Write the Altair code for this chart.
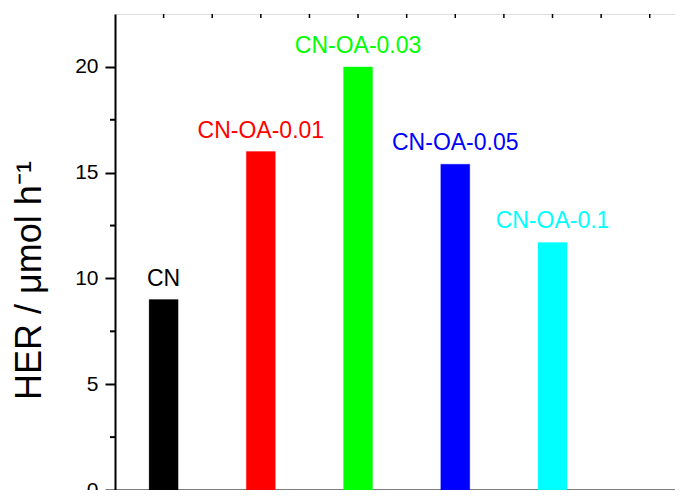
import altair as alt
import pandas as pd

samples = ["CN", "CN-OA-0.01", "CN-OA-0.03", "CN-OA-0.05", "CN-OA-0.1"]
positions = [1, 2, 3, 4, 5]
her = [9.0, 16.0, 20.0, 15.4, 11.7]
colors = ["#000000", "#ff0000", "#00ff00", "#0000ff", "#00ffff"]
y_ticks = [0, 5, 10, 15, 20]
y_minor = [2.5, 7.5, 12.5, 17.5]
x_top_ticks = [1, 1.5, 2, 2.5, 3, 3.5, 4, 4.5, 5, 5.5, 6]

FONT = "Liberation Sans"

df = pd.DataFrame({"sample": samples, "pos": positions, "her": her, "color": colors})
df_minor = pd.DataFrame({"v": y_minor})
df_top = pd.DataFrame({"t": x_top_ticks})

x_scale = alt.Scale(domain=[0.5, 6.26], nice=False, zero=False, padding=0)
y_scale = alt.Scale(domain=[0, 22.5], nice=False)

x_axis = alt.Axis(labels=False, ticks=False, grid=False, title=None,
                  domainColor="black", domainWidth=2)
y_axis = alt.Axis(values=y_ticks, grid=False, title="HER / μmol h⁻¹",
                  labelFont=FONT, labelFontSize=21, labelColor="black", labelPadding=7,
                  tickSize=10, tickWidth=2, tickColor="black",
                  domainColor="black", domainWidth=2,
                  titleFont=FONT, titleFontSize=36, titleFontWeight="normal", titleColor="black",
                  titleX=-75, titleY=266, titleAngle=270, titleAlign="center",
                  titleBaseline="alphabetic")

bars = alt.Chart(df).mark_bar(size=29, strokeWidth=1, strokeOpacity=0.3).encode(
    x=alt.X("pos:Q", scale=x_scale, axis=x_axis),
    y=alt.Y("her:Q", scale=y_scale, axis=y_axis),
    fill=alt.Color("color:N", scale=None),
    stroke=alt.Color("color:N", scale=None),
)

labels = alt.Chart(df).mark_text(font=FONT, fontSize=23, baseline="alphabetic",
                                 align="center", dy=-14).encode(
    x=alt.X("pos:Q", scale=x_scale),
    y=alt.Y("her:Q", scale=y_scale),
    text="sample:N",
    color=alt.Color("color:N", scale=None),
)

minor = alt.Chart(df_minor).mark_rule(color="black", strokeWidth=2, clip=False).encode(
    y=alt.Y("v:Q", scale=y_scale),
    x=alt.value(-5),
    x2=alt.value(0),
)

top_ticks = alt.Chart(df_top).mark_rule(color="black", strokeWidth=1.5).encode(
    x=alt.X("t:Q", scale=x_scale),
    y=alt.value(0),
    y2=alt.value(4),
)

chart = alt.layer(bars, labels, minor, top_ticks).properties(
    width=560,
    height=476,
    autosize=alt.AutoSizeParams(type="none"),
    padding={"left": 107, "top": 6, "right": 0, "bottom": 0},
).configure_view(stroke="black", strokeWidth=2).configure(background="white")

chart.save("out.html", embed_options={"renderer": "svg", "actions": False})
